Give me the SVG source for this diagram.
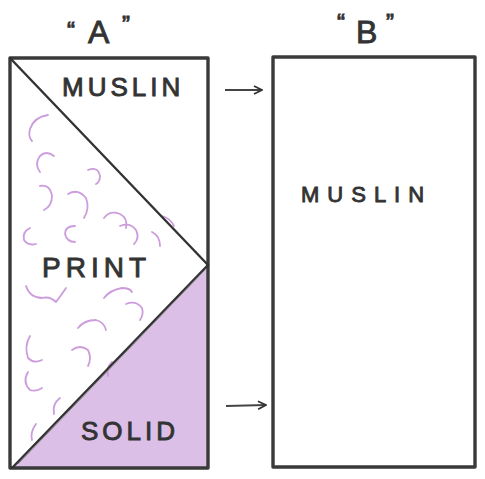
<svg xmlns="http://www.w3.org/2000/svg" width="485" height="479" viewBox="0 0 485 479">
<defs>
<marker id="ah" viewBox="0 0 10 10" refX="9" refY="5" markerWidth="10" markerHeight="10" markerUnits="userSpaceOnUse" orient="auto">
<path d="M1,1 L9,5 L1,9" fill="none" stroke="#333" stroke-width="1.8"/>
</marker>
<style>
.box{fill:none;stroke:#3a3a3a;stroke-width:3.4;stroke-linejoin:round}
.ln{fill:none;stroke:#333;stroke-width:2.4;stroke-linecap:round}
.lbl{font-family:"Liberation Sans",Arial,sans-serif;fill:#333;stroke:#333;stroke-width:0.9}
.curl{fill:none;stroke:#cc9cdc;stroke-width:1.8;stroke-linecap:round}
.conn{fill:none;stroke:#444;stroke-width:1.8}
</style>
</defs>
<rect width="485" height="479" fill="#ffffff"/>
<g id="nodeA">
<polygon points="208,265 12,468 208,468" fill="#dcbfe7"/>
<g id="print-curls">
<path class="curl" d="M48,115 q-14,2 -18,14 q-2,8 2,12"/>
<path class="curl" d="M54,156 q-8,-6 -14,0 q-6,8 0,16"/>
<path class="curl" d="M88,170 q10,-4 12,6 q0,6 -4,8"/>
<path class="curl" d="M40,186 q10,-2 12,10 q0,10 -8,14"/>
<path class="curl" d="M68,194 q10,-6 18,4 q4,10 -2,20"/>
<path class="curl" d="M30,228 q-8,4 -6,12 q4,6 12,4"/>
<path class="curl" d="M75,226 q-10,0 -10,8 q2,8 10,8"/>
<path class="curl" d="M104,218 q6,-8 16,-4 q8,4 6,14"/>
<path class="curl" d="M120,226 q10,-4 16,4 q4,8 -2,14"/>
<path class="curl" d="M152,232 q8,4 8,14"/>
<path class="curl" d="M162,216 q8,2 12,10"/>
<path class="curl" d="M26,286 q4,12 16,12 q8,-2 14,4 q6,-8 10,-14"/>
<path class="curl" d="M104,298 q6,-8 18,-10 q8,0 10,4"/>
<path class="curl" d="M126,304 q10,-4 16,4 q2,6 -2,12"/>
<path class="curl" d="M78,328 q6,-8 18,-8 q8,2 10,10"/>
<path class="curl" d="M30,336 q-6,10 -2,22 q6,6 14,2"/>
<path class="curl" d="M72,350 q8,-6 16,0 q4,8 0,16"/>
<path class="curl" d="M28,372 q-6,10 2,18 q6,2 12,-2"/>
<path class="curl" d="M60,398 q-8,6 -6,16"/>
<path class="curl" d="M36,424 q-6,8 -4,16"/>
<path class="curl" d="M112,362 q-6,6 -4,14"/>
</g>
<rect class="box" x="10" y="58" width="198" height="410"/>
<line class="ln" x1="10" y1="58" x2="208" y2="265"/>
<line class="ln" x1="208" y1="265" x2="12" y2="468" stroke-width="3"/>
<line x1="205" y1="270" x2="18" y2="464" stroke="#888" stroke-width="1"/>
<text class="lbl" x="62" y="96" font-size="26" letter-spacing="4">MUSLIN</text>
<text class="lbl" x="42" y="277" font-size="28" letter-spacing="5">PRINT</text>
<text class="lbl" x="81" y="440" font-size="26" letter-spacing="4">SOLID</text>
</g>
<g id="labelA">
<text class="lbl" x="88" y="43" font-size="32">A</text>
<text class="lbl" x="67" y="39" font-size="24">“</text>
<text class="lbl" x="122" y="33" font-size="24">”</text>
</g>
<g id="nodeB">
<rect class="box" x="273" y="57" width="202" height="410"/>
<text class="lbl" x="301" y="202" font-size="22" letter-spacing="8">MUSLIN</text>
</g>
<g id="labelB">
<text class="lbl" x="356" y="43" font-size="32">B</text>
<text class="lbl" x="337" y="31" font-size="24">“</text>
<text class="lbl" x="386" y="31" font-size="24">”</text>
</g>
<g id="connectors">
<line class="conn" x1="225" y1="90" x2="262" y2="90" marker-end="url(#ah)"/>
<line class="conn" x1="226" y1="406" x2="266" y2="405" marker-end="url(#ah)"/>
</g>
</svg>
